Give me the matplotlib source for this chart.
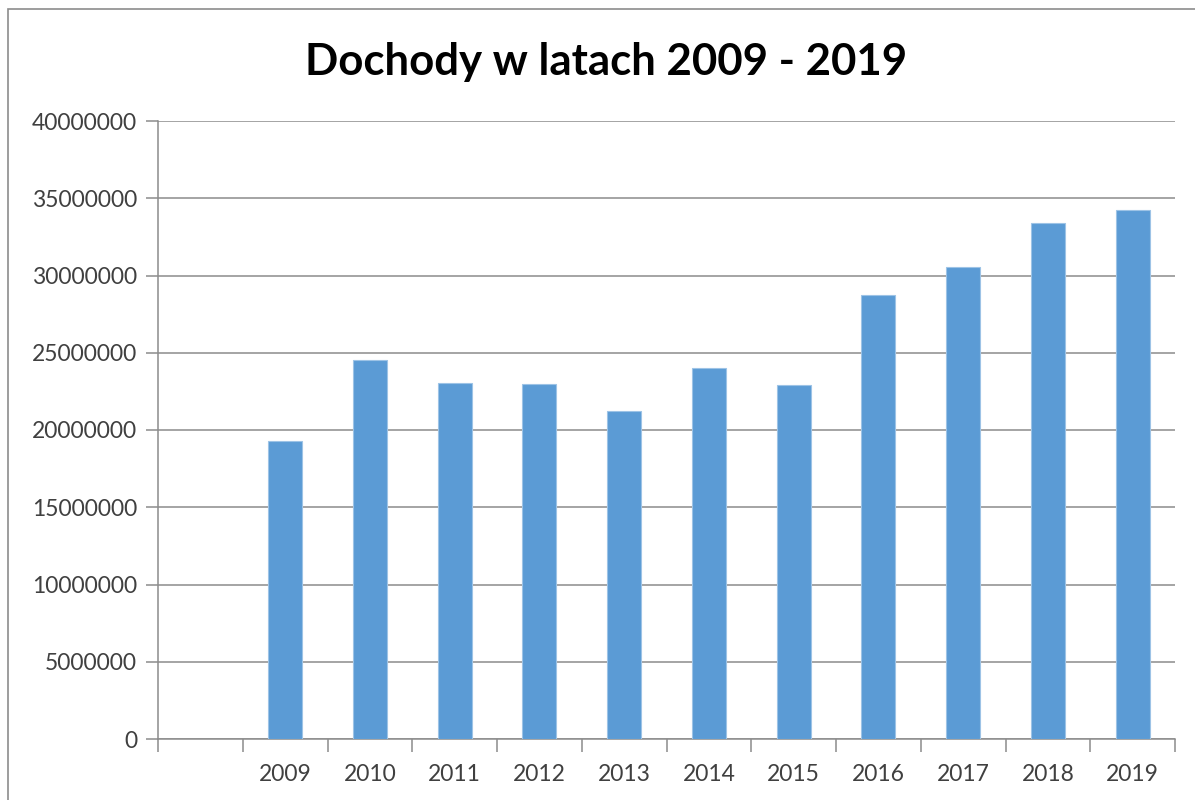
import matplotlib
matplotlib.use("Agg")
import matplotlib.pyplot as plt
from matplotlib.patches import Rectangle

title = "Dochody w latach 2009 - 2019"
categories = ["", "2009", "2010", "2011", "2012", "2013", "2014", "2015", "2016", "2017", "2018", "2019"]
years = ["2009", "2010", "2011", "2012", "2013", "2014", "2015", "2016", "2017", "2018", "2019"]
values = [19290000, 24510000, 23020000, 22960000, 21210000, 23990000, 22910000, 28770000, 30570000, 33400000, 34220000]
yticks = [0, 5000000, 10000000, 15000000, 20000000, 25000000, 30000000, 35000000, 40000000]

plt.rcParams['font.family'] = ['Lato', 'DejaVu Sans']

W, H = 1195, 800
fig = plt.figure(figsize=(W / 100, H / 100), dpi=100)
ax = fig.add_axes([158 / W, 1 - 739 / H, (1175 - 158) / W, (739 - 121) / H])

pos = [categories.index(y) for y in years]
ax.bar(pos, values, width=0.4, color="#5B9BD5", edgecolor="#9DC3E6", linewidth=0.8, zorder=3)

ax.set_xlim(-0.5, len(categories) - 0.5)
ax.set_ylim(0, 40000000)
ax.set_yticks(yticks)
ax.set_yticklabels([str(v) for v in yticks], fontsize=16.5, color="#404040")
ax.yaxis.grid(True, color="#8C8C8C", linewidth=1.1, zorder=0)

ax.set_xticks([i - 0.5 for i in range(len(categories) + 1)])
ax.set_xticklabels([])
ax.set_xticks(range(len(categories)), minor=True)
ax.set_xticklabels(categories, minor=True, fontsize=16.5, color="#404040")
ax.tick_params(axis="x", which="major", length=9, color="#8C8C8C", width=1.1, direction="out")
ax.tick_params(axis="x", which="minor", length=0, pad=18)
ax.tick_params(axis="y", length=9, color="#8C8C8C", width=1.1, pad=6)

for s in ["top", "right"]:
    ax.spines[s].set_visible(False)
for s in ["left", "bottom"]:
    ax.spines[s].set_color("#8C8C8C")
    ax.spines[s].set_linewidth(1.1)

fig.text(606 / W, 1 - 62 / H, title, ha="center", va="center", fontsize=31.5, fontweight="bold", color="black")

fig.patches.append(Rectangle((8 / W, -0.1), 1.2, 1 - 9 / H + 0.1, transform=fig.transFigure,
                             fill=False, edgecolor="#8C8C8C", linewidth=1.2))

fig.savefig("out.png", dpi=100)
